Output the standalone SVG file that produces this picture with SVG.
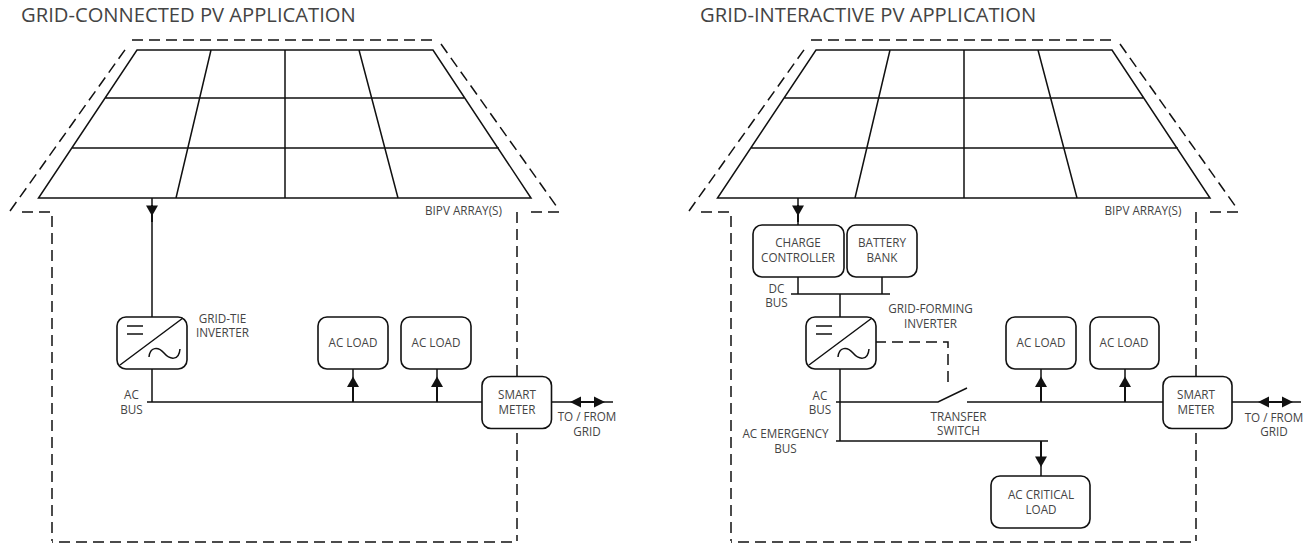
<svg xmlns="http://www.w3.org/2000/svg" xmlns:xlink="http://www.w3.org/1999/xlink" width="1311" height="546" viewBox="0 0 1311 546">
<style>
text{font-family:"Open Sans","Noto Sans","Liberation Sans",sans-serif;font-size:11.7px;fill:#444;text-anchor:middle}
.title{font-size:20.2px;text-anchor:start}
.l{fill:none;stroke:#111;stroke-width:1.5}
.t{fill:none;stroke:#111;stroke-width:2}
.w{fill:none;stroke:#111;stroke-width:1.5}
.d{fill:none;stroke:#111;stroke-width:1.5;stroke-dasharray:11 6}
.box{fill:#fff;stroke:#111;stroke-width:1.6}
.h{fill:#111;stroke:none}
</style>
<defs>
<g id="house">
<path class="d" d="M132 40H435M441 44L557 207M559 212H526M517 212V541M512 542H52M52 216V541M50 212H16M10 211L127 47"/>
<path class="w" d="M137 50H433L531 198H38.500ZM105 98H465M72 148H499M211 50L176 198M285 50V198M359 50L398 198"/>
</g>
<g id="inv">
<rect class="box" width="70" height="52" rx="9"/>
<path class="w" d="M3 48L66 1M10 9H26M10 17H26M32 40C33 30 41 29 47 36C53 43 62 44 63 32"/>
</g>
<path id="up" class="h" d="M0 0L6 10.500H-6Z"/>
<path id="dn" class="h" d="M0 10.500L6 0H-6Z"/>
</defs>
<text class="title" x="21" y="22">GRID-CONNECTED PV APPLICATION</text>
<text class="title" x="700" y="22">GRID-INTERACTIVE PV APPLICATION</text>
<g id="connectors">
<use href="#house"/>
<use href="#house" x="679"/>
<path class="l" d="M152 198V317M152 369V402M147 402H482M551 402H613M353 369V402M437 369V402"/>
<path class="t" d="M353 385V402M437 385V402M152 205V222M580 402H595"/>
<use href="#dn" x="152" y="205.500"/>
<use href="#up" x="353" y="376.500"/><use href="#up" x="437" y="376.500"/>
<path class="h" d="M570 402L581 396.500V407.500ZM605 402L594 396.500V407.500Z"/>
<path class="l" d="M798 198V225M798 277V294M882 277V294M791 294H890M840 294V317M840 369V441M836 402H938L967 388M967 402H1163M836 441H1048M1041 441V476M1041 369V402M1125 369V402M1232 402H1301"/>
<path class="d" d="M875 342H948V385"/>
<path class="t" d="M1041 385V402M1125 385V402M798 205V222M1041 441V458M1268 402H1282"/>
<use href="#dn" x="798" y="205.500"/><use href="#dn" x="1041" y="456.500"/>
<use href="#up" x="1041" y="376.500"/><use href="#up" x="1125" y="376.500"/>
<path class="h" d="M1258 402L1269 396.500V407.500ZM1293 402L1282 396.500V407.500Z"/>
</g>
<g id="array-label-1"><text x="463.500" y="215">BIPV ARRAY(S)</text></g>
<g id="array-label-2"><text x="1143" y="215">BIPV ARRAY(S)</text></g>
<g id="grid-tie-inverter"><use href="#inv" x="117" y="317"/><text x="222.500" y="323">GRID-TIE</text><text x="222.500" y="337">INVERTER</text></g>
<g id="ac-bus-1"><text x="131.500" y="399">AC</text><text x="131.500" y="414">BUS</text></g>
<g id="ac-load-1"><rect class="box" x="318" y="317" width="70" height="52" rx="9"/><text x="353" y="346.500">AC LOAD</text></g>
<g id="ac-load-2"><rect class="box" x="401" y="317" width="70" height="52" rx="9"/><text x="436" y="346.500">AC LOAD</text></g>
<g id="smart-meter-1"><rect class="box" x="482" y="376.500" width="69.500" height="52" rx="9"/><text x="517" y="399">SMART</text><text x="517" y="414">METER</text></g>
<g id="grid-1"><text x="587" y="421">TO / FROM</text><text x="587" y="436">GRID</text></g>
<g id="charge-controller"><rect class="box" x="753" y="225" width="91" height="52" rx="9"/><text x="798" y="247">CHARGE</text><text x="798" y="262">CONTROLLER</text></g>
<g id="battery-bank"><rect class="box" x="847" y="225" width="70" height="52" rx="9"/><text x="882" y="247">BATTERY</text><text x="882" y="262">BANK</text></g>
<g id="dc-bus"><text x="776.500" y="293">DC</text><text x="776.500" y="307">BUS</text></g>
<g id="grid-forming-inverter"><use href="#inv" x="806" y="317"/><text x="930.500" y="313">GRID-FORMING</text><text x="930.500" y="328">INVERTER</text></g>
<g id="ac-bus-2"><text x="820" y="400">AC</text><text x="820" y="414">BUS</text></g>
<g id="transfer-switch"><text x="958.500" y="420.500">TRANSFER</text><text x="958.500" y="435">SWITCH</text></g>
<g id="ac-emergency-bus"><text x="785.500" y="438">AC EMERGENCY</text><text x="785.500" y="453">BUS</text></g>
<g id="ac-load-3"><rect class="box" x="1006" y="317" width="70" height="52" rx="9"/><text x="1041" y="346.500">AC LOAD</text></g>
<g id="ac-load-4"><rect class="box" x="1090" y="317" width="69" height="52" rx="9"/><text x="1124" y="346.500">AC LOAD</text></g>
<g id="smart-meter-2"><rect class="box" x="1163" y="376.500" width="69" height="52" rx="9"/><text x="1196" y="399">SMART</text><text x="1196" y="414">METER</text></g>
<g id="grid-2"><text x="1274" y="421.500">TO / FROM</text><text x="1274" y="436">GRID</text></g>
<g id="ac-critical-load"><rect class="box" x="991" y="476" width="99" height="52" rx="9"/><text x="1041" y="499">AC CRITICAL</text><text x="1041" y="514">LOAD</text></g>
</svg>
